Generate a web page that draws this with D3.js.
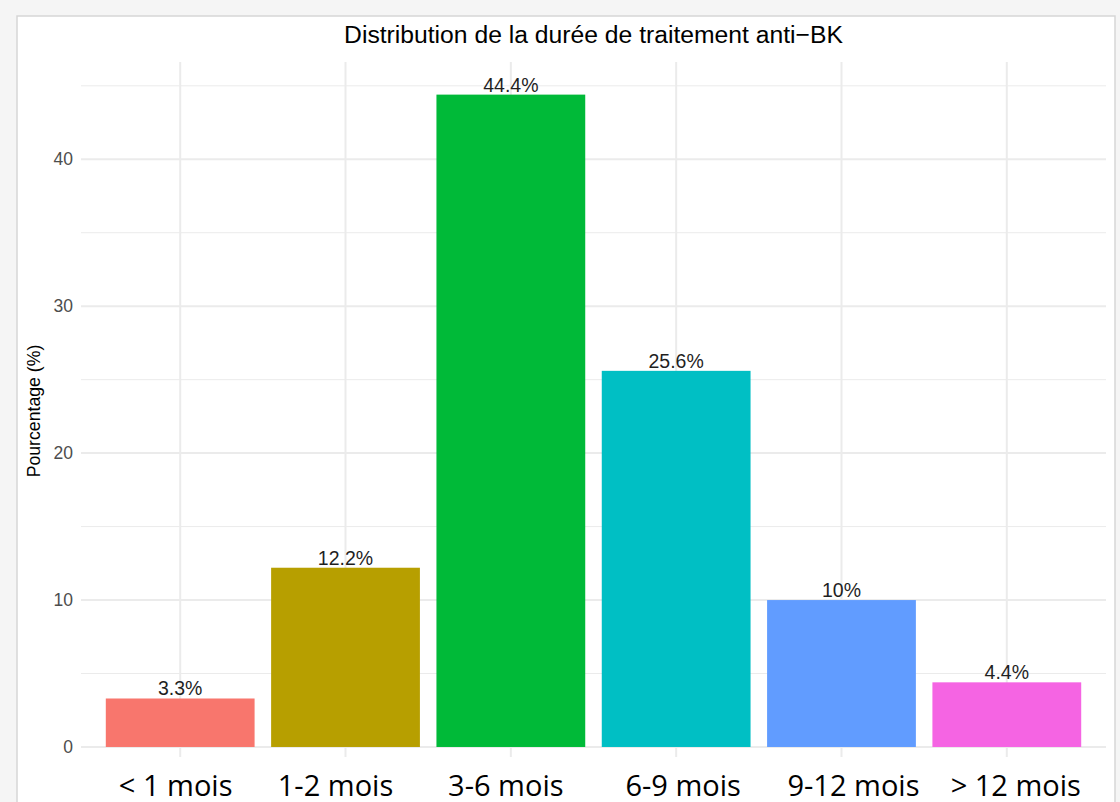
<!DOCTYPE html>
<html lang="fr">
<head>
<meta charset="utf-8">
<script src="https://cdn.jsdelivr.net/npm/d3@7"></script>
<style>
  html, body { margin: 0; padding: 0; background: #f5f5f5; }
  svg { display: block; }
</style>
</head>
<body>
<svg id="chart" width="1120" height="802"></svg>
<script>
// Durée de traitement anti-BK : catégories et pourcentages
const categories = ["< 1 mois", "1-2 mois", "3-6 mois", "6-9 mois", "9-12 mois", "> 12 mois"];
const percentages = [3.3, 12.2, 44.4, 25.6, 10, 4.4];
const barLabels = ["3.3%", "12.2%", "44.4%", "25.6%", "10%", "4.4%"];
const barColors = ["#F8766D", "#B79F00", "#00BA38", "#00BFC4", "#619CFF", "#F564E3"];
const yTicks = [0, 10, 20, 30, 40];
const yMinorTicks = [5, 15, 25, 35, 45];
const titleText = "Distribution de la durée de traitement anti\u2212BK";
const yTitle = "Pourcentage (%)";

// layout
const panel = { left: 81, right: 1106, top: 62, bottom: 779.6, clipBottom: 757 };
const catLabelShift = [-4.5, -10, -5, 7, 12, 9];

const svg = d3.select("#chart");

// cadre blanc
svg.append("rect")
  .attr("x", 17).attr("y", 16)
  .attr("width", 1098).attr("height", 800)
  .attr("fill", "#ffffff")
  .attr("stroke", "#d6d6d6")
  .attr("stroke-width", 1.5);

const x = d3.scaleBand()
  .domain(categories)
  .range([panel.left, panel.right])
  .paddingInner(0.1)
  .paddingOuter(0.15);

// expansion de 5 % autour de [0, max]
const yMax = d3.max(percentages);
const y = d3.scaleLinear()
  .domain([-0.05 * yMax, yMax * 1.05])
  .range([panel.bottom, panel.top]);

svg.append("defs").append("clipPath").attr("id", "panelClip")
  .append("rect")
  .attr("x", panel.left).attr("y", panel.top)
  .attr("width", panel.right - panel.left)
  .attr("height", panel.clipBottom - panel.top);

const plot = svg.append("g").attr("clip-path", "url(#panelClip)");

// grille secondaire
plot.selectAll("line.minor")
  .data(yMinorTicks)
  .join("line")
  .attr("class", "minor")
  .attr("x1", panel.left).attr("x2", panel.right)
  .attr("y1", d => y(d)).attr("y2", d => y(d))
  .attr("stroke", "#ebebeb").attr("stroke-width", 1);

// grille principale
plot.selectAll("line.hmajor")
  .data(yTicks)
  .join("line")
  .attr("class", "hmajor")
  .attr("x1", panel.left).attr("x2", panel.right)
  .attr("y1", d => y(d)).attr("y2", d => y(d))
  .attr("stroke", "#ebebeb").attr("stroke-width", 2);

plot.selectAll("line.vmajor")
  .data(categories)
  .join("line")
  .attr("class", "vmajor")
  .attr("x1", d => x(d) + x.bandwidth() / 2).attr("x2", d => x(d) + x.bandwidth() / 2)
  .attr("y1", panel.top).attr("y2", panel.bottom)
  .attr("stroke", "#ebebeb").attr("stroke-width", 2);

// barres
plot.selectAll("rect.bar")
  .data(percentages)
  .join("rect")
  .attr("class", "bar")
  .attr("x", (d, i) => x(categories[i]))
  .attr("width", x.bandwidth())
  .attr("y", d => y(d))
  .attr("height", d => y(0) - y(d))
  .attr("fill", (d, i) => barColors[i]);

// étiquettes de valeur
svg.selectAll("text.val")
  .data(percentages)
  .join("text")
  .attr("class", "val")
  .attr("x", (d, i) => x(categories[i]) + x.bandwidth() / 2)
  .attr("y", d => y(d) - 3)
  .attr("text-anchor", "middle")
  .attr("font-family", "'Liberation Sans', Arial, sans-serif")
  .attr("font-size", 19.5)
  .attr("fill", "#1f1f1f")
  .text((d, i) => barLabels[i]);

// axe Y
const yAxis = svg.append("g")
  .attr("transform", `translate(${panel.left},0)`)
  .call(d3.axisLeft(y).tickValues(yTicks).tickSize(0).tickPadding(8));
yAxis.select(".domain").remove();
yAxis.selectAll("text")
  .attr("font-family", "'Liberation Sans', Arial, sans-serif")
  .attr("font-size", 17.5)
  .attr("fill", "#4d4d4d");

// libellés de catégories
svg.selectAll("text.cat")
  .data(categories)
  .join("text")
  .attr("class", "cat")
  .attr("x", (d, i) => x(d) + x.bandwidth() / 2 + catLabelShift[i])
  .attr("y", 796)
  .attr("text-anchor", "middle")
  .attr("font-family", "'Open Sans', sans-serif")
  .attr("font-size", 29)
  .attr("fill", "#000000")
  .text(d => d);

// titre de l'axe Y
svg.append("text")
  .attr("transform", "translate(40,411) rotate(-90)")
  .attr("text-anchor", "middle")
  .attr("font-family", "'Liberation Sans', Arial, sans-serif")
  .attr("font-size", 17.7)
  .attr("fill", "#000000")
  .text(yTitle);

// titre
svg.append("text")
  .attr("x", (panel.left + panel.right) / 2)
  .attr("y", 43)
  .attr("text-anchor", "middle")
  .attr("font-family", "'Liberation Sans', Arial, sans-serif")
  .attr("font-size", 24.7)
  .attr("fill", "#000000")
  .text(titleText);
</script>
</body>
</html>
